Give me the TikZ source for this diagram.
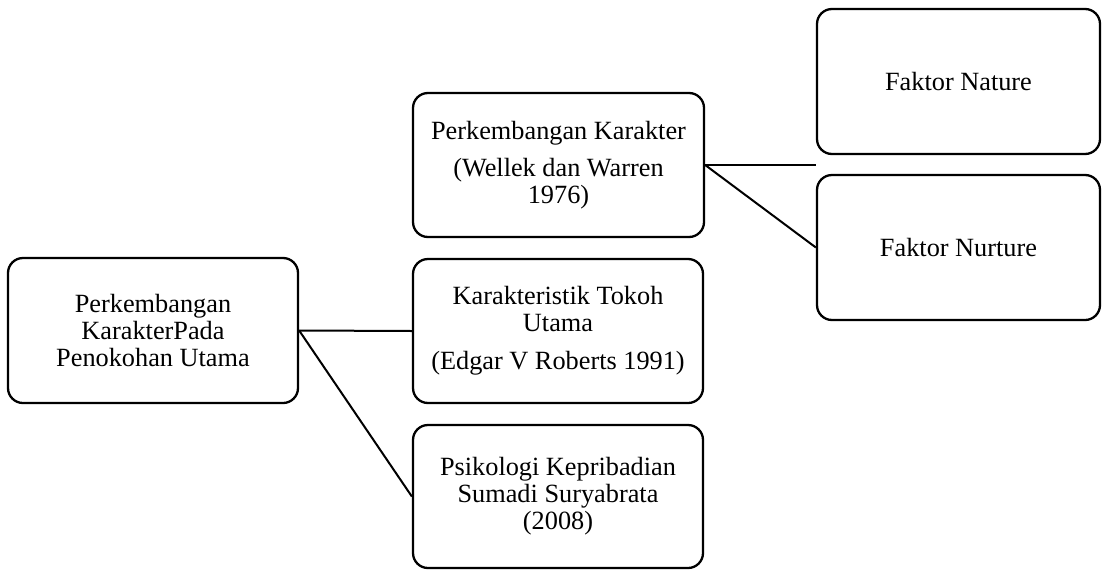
\documentclass[tikz,border=0pt]{standalone}
\usepackage{fontspec}
\setmainfont{Liberation Serif}
\begin{document}
\begin{tikzpicture}[x=1pt,y=-1pt,
  box/.style={draw=black,line width=2.3pt,rounded corners=15pt,align=center,inner sep=0pt,
    font=\fontsize{26.3}{27}\selectfont},
  conn/.style={draw=black,line width=2pt}]
\useasboundingbox (0,0) rectangle (1102,573);
\node[box,minimum width=290pt,minimum height=145pt] (b1) at (153,330.5) {Perkembangan\\KarakterPada\\Penokohan Utama};
\node[box,minimum width=291pt,minimum height=144pt] (b2) at (558.5,165) {Perkembangan Karakter\\[10pt](Wellek dan Warren\\1976)};
\node[box,minimum width=290pt,minimum height=144pt] (b3) at (558,331) {Karakteristik Tokoh\\Utama\\[11pt](Edgar V Roberts 1991)};
\node[box,minimum width=290pt,minimum height=143pt] (b4) at (558,496.5) {Psikologi Kepribadian\\Sumadi Suryabrata\\(2008)};
\node[box,minimum width=283pt,minimum height=145pt] (b5) at (958.5,81.5) {Faktor Nature};
\node[box,minimum width=283pt,minimum height=145pt] (b6) at (958.5,247.5) {Faktor Nurture};
\draw[conn] (b1.east) -- (b3.west);
\draw[conn] (b1.east) -- (b4.west);
\draw[conn] (b2.east) -- (b2.east -| b5.west);
\draw[conn] (b2.east) -- (b6.west);
\end{tikzpicture}
\end{document}
